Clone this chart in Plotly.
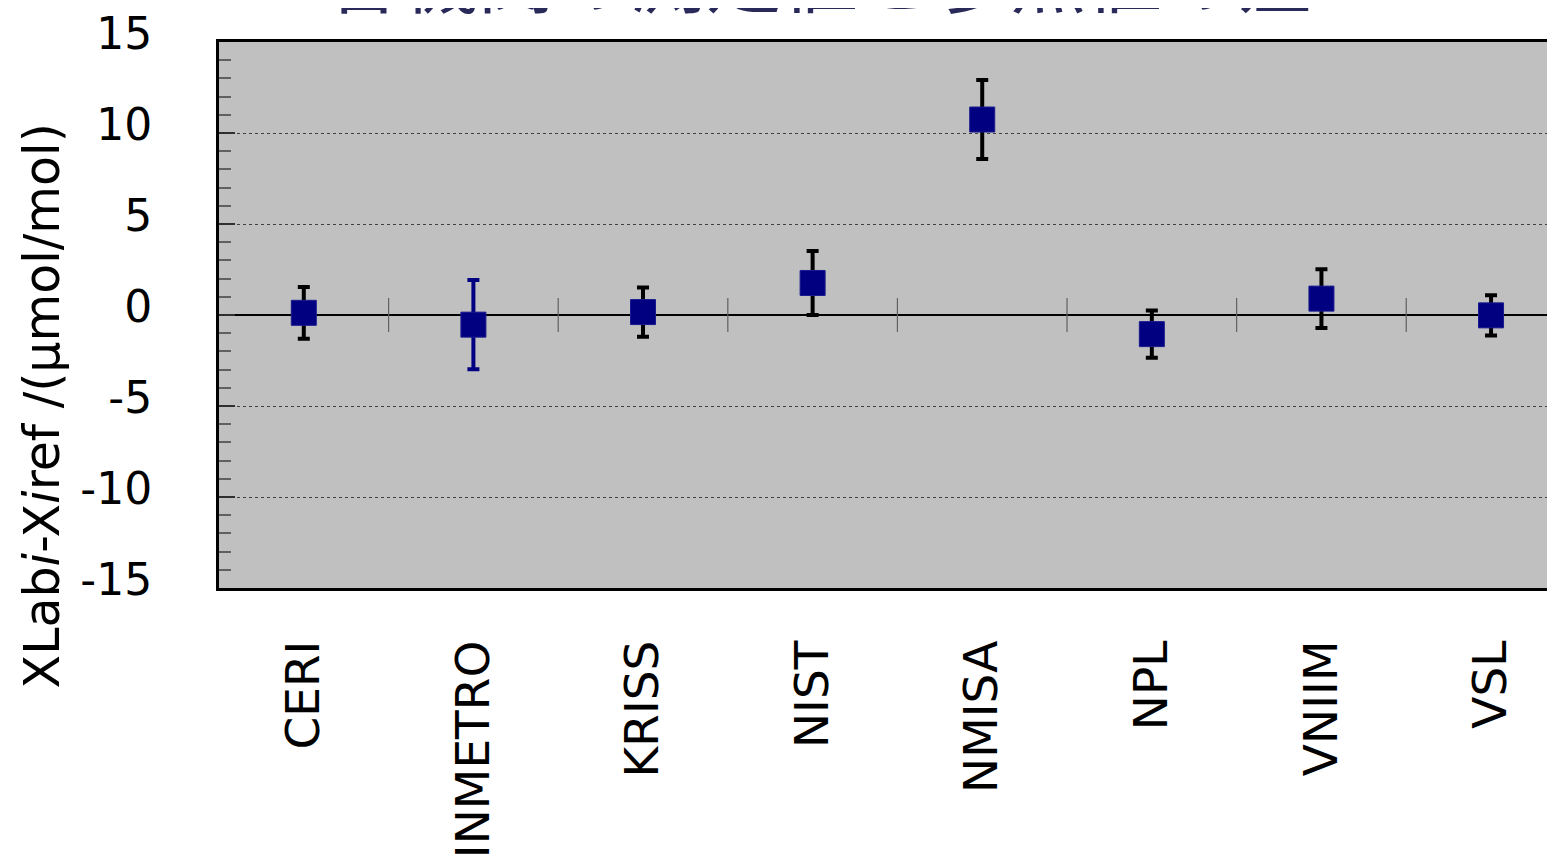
import plotly.graph_objects as go

# Data
labs = ["CERI", "INMETRO", "KRISS", "NIST", "NMISA", "NPL", "VNIIM", "VSL"]
diff = [0.12, -0.53, 0.16, 1.76, 10.74, -1.05, 0.90, -0.02]
unc = [1.42, 2.45, 1.35, 1.76, 2.17, 1.30, 1.62, 1.10]
err_colors = ["#000000", "#000080", "#000000", "#000000", "#000000", "#000000", "#000000", "#000000"]

y_tickvals = [-15, -10, -5, 0, 5, 10, 15]
y_ticktext = ["-15", "-10", "-5", "0", "5", "10", "15"]

title_text = "各機関の測定値と参照値の差"
ytitle_text = "XLab<i>i</i>-X<i>i</i>ref /(μmol/mol)"

FONT = "DejaVu Sans"

fig = go.Figure()
for i, lab in enumerate(labs):
    fig.add_trace(go.Scatter(
        x=[lab], y=[diff[i]],
        mode="markers",
        marker=dict(symbol="square", size=25, color="#000080",
                    line=dict(width=1, color="#1a1a90")),
        error_y=dict(type="data", array=[unc[i]], visible=True,
                     color=err_colors[i], thickness=4, width=6),
        showlegend=False,
    ))

# crossing tick marks on the zero axis between categories
for i in range(len(labs) - 1):
    fig.add_shape(type="line", xref="x", yref="y",
                  x0=i + 0.5, x1=i + 0.5, y0=-0.93, y1=0.93,
                  line=dict(color="#606060", width=1.2), layer="above")

fig.add_annotation(text=title_text, xref="paper", yref="paper",
                   x=0.4495, y=1.125, xanchor="center", yanchor="middle",
                   showarrow=False,
                   font=dict(family="Noto Sans CJK JP", size=76, color="#2a2a5a"))

fig.add_annotation(text=ytitle_text, xref="paper", yref="paper",
                   x=-0.132, y=0.3335, xanchor="center", yanchor="middle",
                   textangle=-90, showarrow=False,
                   font=dict(family=FONT, size=49, color="#000000"))

fig.update_layout(
    width=1548, height=849,
    margin=dict(l=211, r=0, t=34, b=269, autoexpand=False),
    paper_bgcolor="white",
    plot_bgcolor="#c0c0c0",
    font=dict(family=FONT, color="#000000"),
    xaxis=dict(
        type="category",
        categoryorder="array", categoryarray=labs,
        range=[-0.5, 7.383],
        automargin=False,
        showgrid=False, zeroline=False,
        showline=True, linecolor="#000000", linewidth=2.5, mirror=True,
        ticks="", tickangle=-90,
        tickfont=dict(family=FONT, size=47, color="#000000"),
        ticklabelstandoff=31,
        ticklabeloverflow="allow",
    ),
    yaxis=dict(
        range=[-15, 15],
        automargin=False,
        tickvals=y_tickvals, ticktext=y_ticktext,
        showgrid=True, gridcolor="#404040", gridwidth=1, griddash="dot",
        zeroline=True, zerolinecolor="#000000", zerolinewidth=2,
        showline=True, linecolor="#000000", linewidth=3, mirror=False,
        ticks="inside", ticklen=16, tickwidth=2, tickcolor="#303030",
        minor=dict(dtick=1, ticks="inside", ticklen=12, tickwidth=2,
                   tickcolor="#606060", showgrid=False),
        tickfont=dict(family=FONT, size=44, color="#000000"),
        ticklabelstandoff=55,
        ticklabelshift=-8,
        ticklabeloverflow="allow",
    ),
)

fig.write_html("out.html")
